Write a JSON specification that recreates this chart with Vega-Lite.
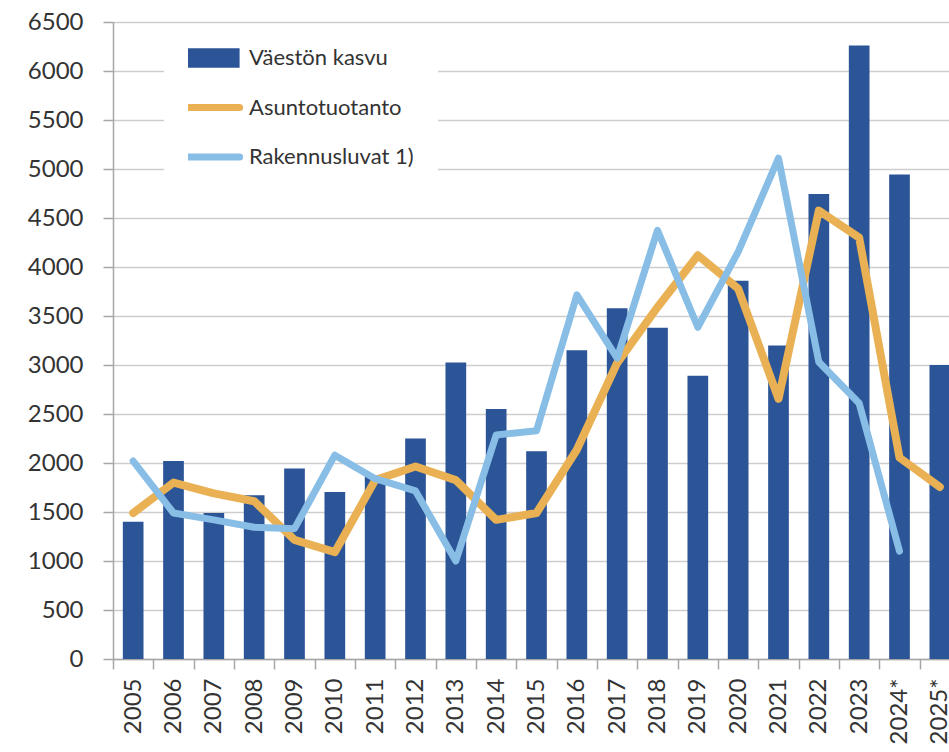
{
  "$schema": "https://vega.github.io/schema/vega-lite/v6.json",
  "autosize": "none",
  "width": 836,
  "height": 637,
  "padding": {"left": 113, "top": 22, "right": 0, "bottom": 93},
  "background": "white",
  "data": {
    "values": [
      {"year": "2005", "vaesto": 1400, "asunto": 1490, "luvat": 2020},
      {"year": "2006", "vaesto": 2020, "asunto": 1800, "luvat": 1490},
      {"year": "2007", "vaesto": 1490, "asunto": 1690, "luvat": 1420},
      {"year": "2008", "vaesto": 1670, "asunto": 1610, "luvat": 1345},
      {"year": "2009", "vaesto": 1945, "asunto": 1215, "luvat": 1330},
      {"year": "2010", "vaesto": 1705, "asunto": 1090, "luvat": 2080},
      {"year": "2011", "vaesto": 1875, "asunto": 1825, "luvat": 1840},
      {"year": "2012", "vaesto": 2250, "asunto": 1965, "luvat": 1715},
      {"year": "2013", "vaesto": 3025, "asunto": 1825, "luvat": 1000},
      {"year": "2014", "vaesto": 2550, "asunto": 1420, "luvat": 2285},
      {"year": "2015", "vaesto": 2120, "asunto": 1490, "luvat": 2330},
      {"year": "2016", "vaesto": 3150, "asunto": 2135, "luvat": 3715},
      {"year": "2017", "vaesto": 3580, "asunto": 3020, "luvat": 3070},
      {"year": "2018", "vaesto": 3380, "asunto": 3590, "luvat": 4375},
      {"year": "2019", "vaesto": 2890, "asunto": 4120, "luvat": 3385},
      {"year": "2020", "vaesto": 3860, "asunto": 3780, "luvat": 4155},
      {"year": "2021", "vaesto": 3200, "asunto": 2655, "luvat": 5110},
      {"year": "2022", "vaesto": 4745, "asunto": 4575, "luvat": 3030},
      {"year": "2023", "vaesto": 6260, "asunto": 4300, "luvat": 2610},
      {"year": "2024*", "vaesto": 4945, "asunto": 2055, "luvat": 1100},
      {"year": "2025*", "vaesto": 3000, "asunto": 1755, "luvat": null}
    ]
  },
  "encoding": {
    "x": {
      "field": "year", "type": "nominal", "sort": null, "title": null,
      "scale": {"range": [0, 847], "paddingInner": 0, "paddingOuter": 0}
    }
  },
  "layer": [
    {
      "mark": {"type": "bar", "width": {"band": 0.513}},
      "encoding": {
        "y": {"field": "vaesto", "type": "quantitative", "title": null,
              "scale": {"domain": [0, 6500], "nice": false, "zero": true}},
        "color": {"datum": "Väestön kasvu", "type": "nominal",
          "scale": {"domain": ["Väestön kasvu", "Asuntotuotanto", "Rakennusluvat 1)"],
                    "range": ["#2B5597", "#E9B153", "#88BDE6"]},
          "legend": {
            "orient": "none", "legendX": 51, "legendY": 2, "title": null,
            "padding": 24, "fillColor": "white",
            "symbolSize": 3136, "symbolStrokeWidth": 7, "clipHeight": 20,
            "labelFont": "Lato", "labelFontSize": 22, "labelColor": "#333333",
            "labelOffset": 39, "labelLimit": 400, "rowPadding": 27.5,
            "encode": {
              "symbols": {
                "update": {
                  "shape": {"signal": "datum.value === 'Väestön kasvu' ? 'M-1.45,-0.35H1.45V0.35H-1.45Z' : 'M-1.45,0H1.45'"},
                  "fill": {"signal": "datum.value === 'Väestön kasvu' ? '#2B5597' : 'transparent'"},
                  "stroke": {"signal": "datum.value === 'Väestön kasvu' ? 'transparent' : (datum.value === 'Asuntotuotanto' ? '#E9B153' : '#88BDE6')"},
                  "strokeWidth": {"signal": "datum.value === 'Väestön kasvu' ? 0 : 7"},
                  "strokeCap": {"value": "round"},
                  "opacity": {"value": 1}
                }
              }
            }
          }
        }
      }
    },
    {
      "mark": {"type": "line", "strokeWidth": 8, "strokeCap": "round", "strokeJoin": "round"},
      "encoding": {
        "y": {"field": "asunto", "type": "quantitative", "title": null},
        "color": {"datum": "Asuntotuotanto", "type": "nominal"}
      }
    },
    {
      "mark": {"type": "line", "strokeWidth": 7, "strokeCap": "round", "strokeJoin": "round"},
      "encoding": {
        "y": {"field": "luvat", "type": "quantitative", "title": null},
        "color": {"datum": "Rakennusluvat 1)", "type": "nominal"}
      }
    }
  ],
  "config": {
    "view": {"stroke": null},
    "axisY": {
      "values": [0, 500, 1000, 1500, 2000, 2500, 3000, 3500, 4000, 4500, 5000, 5500, 6000, 6500],
      "format": "d",
      "grid": true, "gridColor": "#CDCDCD", "gridWidth": 1.5,
      "domainColor": "#A6A6A6", "domainWidth": 1.5,
      "tickColor": "#A6A6A6", "tickWidth": 1.5, "tickSize": 10,
      "labelFont": "Lato", "labelFontSize": 24, "labelColor": "#333333",
      "labelPadding": 20
    },
    "axisX": {
      "grid": false, "tickBand": "extent",
      "domainColor": "#A6A6A6", "domainWidth": 1.5,
      "tickColor": "#A6A6A6", "tickWidth": 1.5, "tickSize": 10,
      "labelFont": "Lato", "labelFontSize": 24, "labelColor": "#333333",
      "labelAngle": -90, "labelPadding": 9
    }
  }
}
